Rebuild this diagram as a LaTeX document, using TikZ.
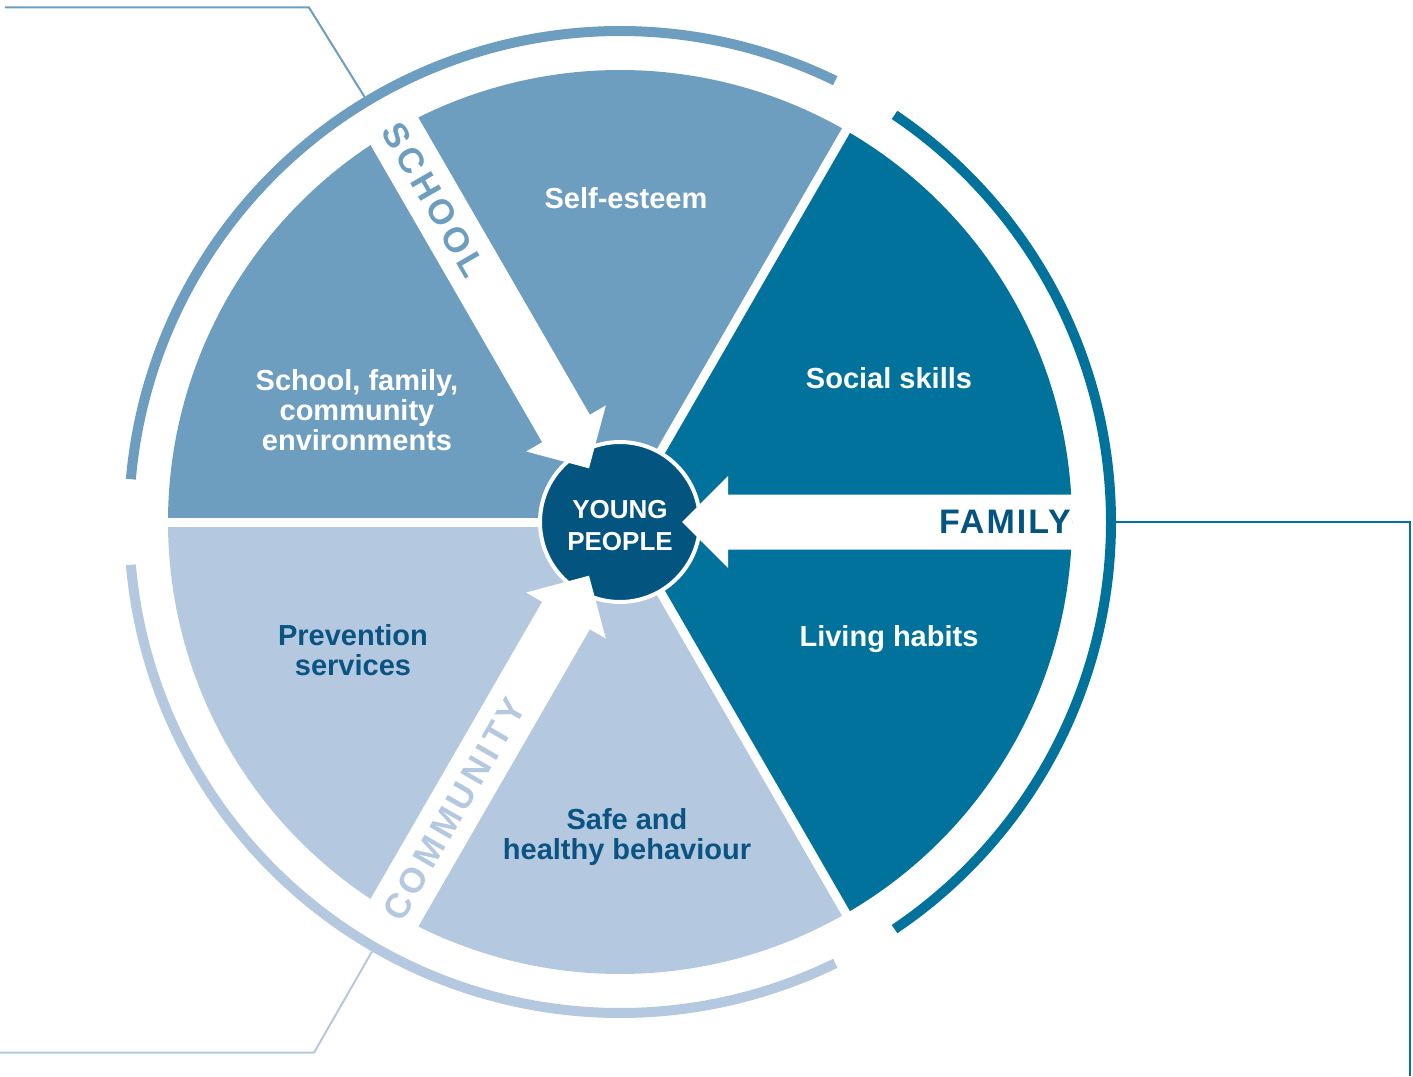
\documentclass[tikz,border=0pt]{standalone}
\usepackage{fontspec}
\setmainfont{Liberation Sans}
\newfontfamily\spacedfont[LetterSpace=12]{Liberation Sans}
\newfontfamily\famfont[LetterSpace=6]{Liberation Sans}
\usetikzlibrary{positioning}

\definecolor{schoolblue}{HTML}{6D9EC0}
\definecolor{familyblue}{HTML}{00729C}
\definecolor{commblue}{HTML}{B4C9DF}
\definecolor{centreblue}{HTML}{03547E}
\definecolor{textblue}{HTML}{0A5382}

\tikzset{
	sectortext/.style={align=center, inner sep=0pt, font=\fontsize{29}{30}\selectfont\bfseries},
	centretext/.style={align=center, inner sep=0pt, text=white, font=\fontsize{26}{32}\selectfont\bfseries},
	bandtext/.style={inner sep=0pt, font=\fontsize{35}{35}\selectfont\bfseries},
	gapline/.style={white, line width=9pt},
	ringarc/.style={line width=10pt},
	hub/.style={circle, fill=centreblue, draw=white, line width=4pt, minimum size=160pt, inner sep=0pt},
	leader/.style={line width=2pt}
}

\begin{document}
\begin{tikzpicture}[x=1pt,y=1pt]

	\def\R{452}
	\def\Rg{458}
	\def\Ra{491}
	\def\Rl{496}

	\useasboundingbox (-620,-554) rectangle (793,522);

	\foreach \a/\col in {0/familyblue,60/schoolblue,120/schoolblue,180/commblue,240/commblue,300/familyblue} {
		\fill[\col] (0,0) -- (\a:\R) arc[start angle=\a, delta angle=60, radius=\R] -- cycle;
	}
	\foreach \a in {60,180,300} {
		\draw[gapline] (0,0) -- (\a:\Rg);
	}

	\foreach \a/\b/\col in {-56/56/familyblue, 64/175/schoolblue, 185/296/commblue} {
		\draw[ringarc, \col] (\a:\Ra) arc[start angle=\a, end angle=\b, radius=\Ra];
	}

	\node[hub] (hub) at (0,0) {};

	\foreach \a in {0,120,240} {
		\fill[white, rotate=\a] (\R,27.5) -- (108,27.5) -- (108,46) -- (62,0) -- (108,-46) -- (108,-27.5) -- (\R,-27.5) -- cycle;
	}

	\node[sectortext, white] (selfesteem) at (6,324) {Self-esteem};
	\node[sectortext, white] (social) at (269,144) {Social skills};
	\node[sectortext, white] (environments) at (-263,112) {School, family,\\community\\environments};
	\node[sectortext, white] (habits) at (269,-117) {Living habits};
	\node[sectortext, textblue] (prevention) at (-267,-128) {Prevention\\services};
	\node[sectortext, textblue] (safe) at (7,-315) {Safe and\\healthy behaviour};
	\node[centretext] (young) at (0,-4) {YOUNG\\PEOPLE};

	\node[bandtext, centreblue, anchor=east, font=\fontsize{34}{34}\selectfont\bfseries] (family) at (451,0) {\famfont FAMILY};
	\node[bandtext, schoolblue, rotate=-60] (school) at (120:372) {\spacedfont SCHOOL};
	\node[bandtext, commblue, rotate=60] (community) at (240:332) {\spacedfont COMMUNITY};

	\coordinate (schoolfoot) at (121:\Rl);
	\coordinate (schoolknee) at (-311,514.5);
	\coordinate (schoolfree) at (-615,514.5);
	\draw[leader, schoolblue] (schoolfoot) -- (schoolknee) -- (schoolfree);

	\coordinate (familyfoot) at (0:\Rl);
	\coordinate (familyknee) at (790,0);
	\coordinate (familyfree) at (790,-554);
	\draw[leader, familyblue] (familyfoot) -- (familyknee) -- (familyfree);

	\coordinate (commfoot) at (240:\Rl);
	\coordinate (commknee) at (-306,-530.7);
	\coordinate (commfree) at (-620,-530.7);
	\draw[leader, commblue] (commfoot) -- (commknee) -- (commfree);

\end{tikzpicture}
\end{document}
